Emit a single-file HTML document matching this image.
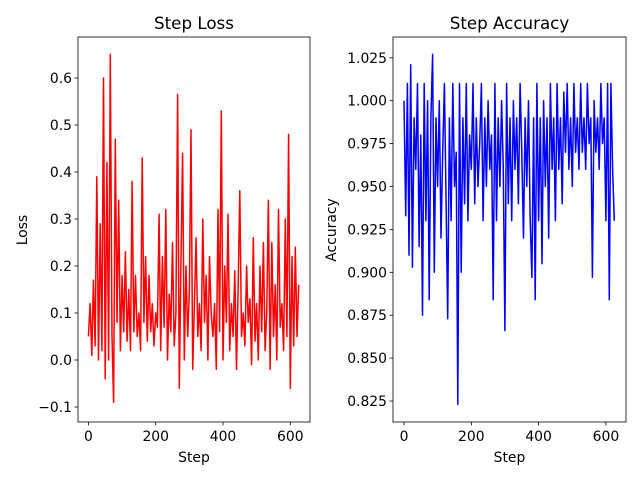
<!DOCTYPE html>
<html><head><meta charset="utf-8"><style>
body{margin:0;background:#fff;}
svg text{font-family:"DejaVu Sans","Liberation Sans",sans-serif;fill:#000;}
</style></head><body>
<svg id="chart" width="640" height="480" xmlns="http://www.w3.org/2000/svg"></svg>
<script>
const steps=[];for(let i=0;i<=125;i++)steps.push(i*5);
const lossValues=[0.05,0.12,0.01,0.17,0.03,0.39,0.0,0.29,0.02,0.6,-0.04,0.42,0.0,0.65,0.05,-0.09,0.47,0.08,0.34,0.02,0.18,0.06,0.23,0.04,0.15,0.02,0.38,0.06,0.18,0.05,0.1,0.02,0.43,0.08,0.22,0.04,0.18,0.06,0.12,0.03,0.1,0.07,0.31,0.02,0.22,0.07,0.32,0.0,0.14,0.06,0.25,0.03,0.1,0.565,-0.06,0.2,0.44,0.0,0.2,0.05,0.15,0.49,-0.02,0.12,0.26,0.05,0.12,0.02,0.3,0.08,0.18,0.0,0.22,0.1,0.05,0.12,-0.02,0.32,0.06,0.53,0.0,0.2,0.08,0.31,0.02,0.12,0.05,0.19,-0.02,0.15,0.36,0.05,0.1,0.03,0.2,0.08,0.13,-0.01,0.26,0.04,0.12,0.0,0.2,0.06,0.25,0.02,0.1,0.34,-0.02,0.25,0.05,0.16,0.0,0.32,0.07,0.12,0.02,0.3,0.05,0.48,-0.06,0.22,0.03,0.24,0.05,0.16];
const accValues=[1.0,0.933,1.01,0.91,1.021,0.903,0.99,0.96,1.01,0.915,0.98,0.875,1.01,0.93,1.0,0.884,0.99,1.027,0.9,0.99,0.95,1.0,0.92,0.97,1.01,0.94,0.873,0.99,0.93,1.01,0.95,0.97,0.823,1.01,0.9,0.99,0.94,1.01,0.93,0.98,0.96,1.01,0.94,0.99,0.95,0.975,1.01,0.93,0.99,0.95,1.0,0.96,0.98,0.884,1.01,0.93,0.99,0.95,1.0,0.96,0.866,1.01,0.94,0.99,0.93,1.0,0.96,0.99,0.94,1.01,0.97,0.92,0.99,0.95,1.0,0.93,0.897,0.99,0.884,1.01,0.93,0.99,0.905,1.0,0.95,0.99,0.92,1.01,0.96,0.99,0.93,1.01,0.96,0.99,0.94,1.005,0.97,1.01,0.96,0.99,0.95,1.01,0.97,0.99,0.96,1.01,0.97,0.99,0.96,1.01,0.975,0.99,0.897,1.0,0.97,0.99,0.96,1.01,0.975,0.99,0.93,1.01,0.884,1.01,0.96,0.93];
const xTicks=[0,200,400,600];
const lossTicks=[-0.1,0.0,0.1,0.2,0.3,0.4,0.5,0.6];
const accTicks=[0.825,0.850,0.875,0.900,0.925,0.950,0.975,1.000,1.025];

const NS="http://www.w3.org/2000/svg";
const svg=document.getElementById('chart');
function el(tag,attrs,parent){const e=document.createElementNS(NS,tag);for(const k in attrs)e.setAttribute(k,attrs[k]);(parent||svg).appendChild(e);return e;}

function panel(cfg){
  const g=el('g',{});
  
  
  const xs=v=>cfg.x0+v*cfg.xk;
  const ys=v=>cfg.y0-(v-cfg.yv0)*cfg.yk;
  let d='';
  steps.forEach((s,i)=>{d+=(i?'L':'M')+xs(s).toFixed(1)+' '+ys(cfg.vals[i]).toFixed(1);});
  const line=el('path',{d:d,fill:'none',stroke:cfg.color,'stroke-width':1.5,'stroke-linejoin':'round'},g);
  
  
  const frame=el('rect',{x:cfg.L,y:37,width:cfg.R-cfg.L,height:422-37,fill:'none',stroke:'#000','stroke-width':0.8},g);
  
  
  xTicks.forEach(t=>{
    const x=xs(t);
    el('line',{x1:x,x2:x,y1:422,y2:425.5,stroke:'#000','stroke-width':0.8},g);
    const tx=el('text',{x:x,y:441,'font-size':13.9,'text-anchor':'middle'},g);tx.textContent=t;
    
    
  });
  cfg.ticks.forEach(t=>{
    const y=ys(t);
    el('line',{x1:cfg.L-3.5,x2:cfg.L,y1:y,y2:y,stroke:'#000','stroke-width':0.8},g);
    const tx=el('text',{x:cfg.L-6,y:y+5,'font-size':13.9,'text-anchor':'end'},g);tx.textContent=t.toFixed(cfg.dec).replace('-','\u2212');
    
    
  });
  const ti=el('text',{x:(cfg.L+cfg.R)/2,y:29,'font-size':16.7,'text-anchor':'middle'},g);ti.textContent=cfg.title;
  
  
  const xl=el('text',{x:(cfg.L+cfg.R)/2,y:462,'font-size':13.9,'text-anchor':'middle'},g);xl.textContent='Step';
  
  
  const yl=el('text',{x:cfg.ylx,y:230,'font-size':13.9,'text-anchor':'middle',transform:'rotate(-90 '+cfg.ylx+' 230)'},g);yl.textContent=cfg.ylabel;
  
  
}
panel({name:'loss-panel',lineName:'loss-line',vals:lossValues,color:'#ff0000',L:78,R:310,x0:88.4,xk:0.3365,y0:360,yv0:0,yk:470,ticks:lossTicks,dec:1,title:'Step Loss',ylabel:'Loss',ylx:27});
panel({name:'accuracy-panel',lineName:'accuracy-line',vals:accValues,color:'#0000ff',L:393,R:626,x0:404,xk:0.3365,y0:401,yv0:0.825,yk:1716,ticks:accTicks,dec:3,title:'Step Accuracy',ylabel:'Accuracy',ylx:336});
</script>
</body></html>
